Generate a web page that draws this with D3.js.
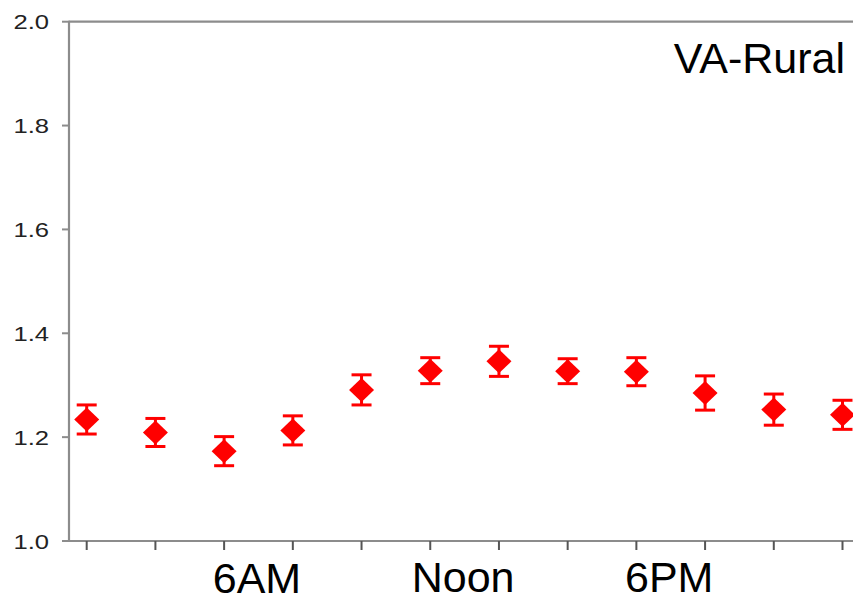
<!DOCTYPE html>
<html>
<head>
<meta charset="utf-8">
<script src="https://cdn.jsdelivr.net/npm/d3@7"></script>
<style>
  html, body { margin: 0; padding: 0; background: #fff; }
  svg { display: block; }
</style>
</head>
<body>
<svg id="chart" width="853" height="601"></svg>
<script>
// Two-hourly means with symmetric error bars
const slots = [0, 1, 2, 3, 4, 5, 6, 7, 8, 9, 10, 11];
const means = [1.234, 1.209, 1.173, 1.213, 1.291, 1.328, 1.346, 1.327, 1.326, 1.285, 1.253, 1.243];
const errors = [0.028, 0.027, 0.028, 0.028, 0.029, 0.025, 0.029, 0.024, 0.027, 0.033, 0.030, 0.028];
const yTicks = [1.0, 1.2, 1.4, 1.6, 1.8, 2.0];
const timeLabels = ["6AM", "Noon", "6PM"];
const timeLabelSlots = [2, 5, 8];
const title = "VA-Rural";

const svg = d3.select("#chart");
const plotLeft = 69, plotRight = 853, plotTop = 21.7, plotBottom = 541;
const axisColor = "#8c8c8c";
const red = "#ff0000";

const x = d3.scaleLinear().domain([0, 11]).range([86.7, 842.5]);
const y = d3.scaleLinear().domain([1.0, 2.0]).range([plotBottom, plotTop]);
const step = x(1) - x(0);

// frame: top edge, left axis, bottom axis
svg.append("line").attr("x1", plotLeft).attr("x2", plotRight).attr("y1", plotTop).attr("y2", plotTop)
  .attr("stroke", axisColor).attr("stroke-width", 2.2);
svg.append("line").attr("x1", plotLeft).attr("x2", plotLeft).attr("y1", plotTop - 1).attr("y2", plotBottom + 1)
  .attr("stroke", axisColor).attr("stroke-width", 2.2);
svg.append("line").attr("x1", plotLeft).attr("x2", plotRight).attr("y1", plotBottom).attr("y2", plotBottom)
  .attr("stroke", axisColor).attr("stroke-width", 2.2);

// y ticks and labels
const yAxis = svg.append("g");
yAxis.selectAll("line").data(yTicks).join("line")
  .attr("x1", 62).attr("x2", plotLeft)
  .attr("y1", d => y(d)).attr("y2", d => y(d))
  .attr("stroke", axisColor).attr("stroke-width", 2);
yAxis.selectAll("g.lab").data(yTicks).join("g").attr("class", "lab")
  .attr("transform", d => `translate(49,${y(d) + 7.6}) scale(1.22,1)`)
  .append("text")
  .attr("text-anchor", "end")
  .attr("font-family", "'Liberation Sans', Arial, sans-serif")
  .attr("font-size", 21)
  .attr("fill", "#222")
  .text(d => d3.format(".1f")(d));

// x ticks
svg.append("g").selectAll("line").data(slots).join("line")
  .attr("x1", d => x(d)).attr("x2", d => x(d))
  .attr("y1", plotBottom).attr("y2", plotBottom + 9)
  .attr("stroke", "#555").attr("stroke-width", 2);

// x labels sit between ticks
const labelBaselines = [593, 592, 592];
svg.append("g").selectAll("text").data(timeLabels).join("text")
  .attr("x", (d, i) => x(timeLabelSlots[i]) + step / 2 - 1.5)
  .attr("y", (d, i) => labelBaselines[i])
  .attr("text-anchor", "middle")
  .attr("font-family", "'Liberation Sans', Arial, sans-serif")
  .attr("font-size", 43)
  .attr("fill", "#000")
  .text(d => d);

// title
svg.append("text")
  .attr("x", 845).attr("y", 73)
  .attr("text-anchor", "end")
  .attr("font-family", "'Liberation Sans', Arial, sans-serif")
  .attr("font-size", 43)
  .attr("fill", "#000")
  .text(title);

// error bars
const eb = svg.append("g").attr("stroke", red).attr("stroke-width", 3);
slots.forEach((s, i) => {
  const cx = x(s), hi = y(means[i] + errors[i]), lo = y(means[i] - errors[i]);
  eb.append("line").attr("x1", cx).attr("x2", cx).attr("y1", hi).attr("y2", lo);
  eb.append("line").attr("x1", cx - 10).attr("x2", cx + 10).attr("y1", hi).attr("y2", hi);
  eb.append("line").attr("x1", cx - 10).attr("x2", cx + 10).attr("y1", lo).attr("y2", lo);
});

// diamond markers
const hw = 12.5, hh = 12;
svg.append("g").selectAll("path").data(slots).join("path")
  .attr("d", s => {
    const cx = x(s), cy = y(means[s]);
    return `M${cx},${cy - hh}L${cx + hw},${cy}L${cx},${cy + hh}L${cx - hw},${cy}Z`;
  })
  .attr("fill", red);
</script>
</body>
</html>
